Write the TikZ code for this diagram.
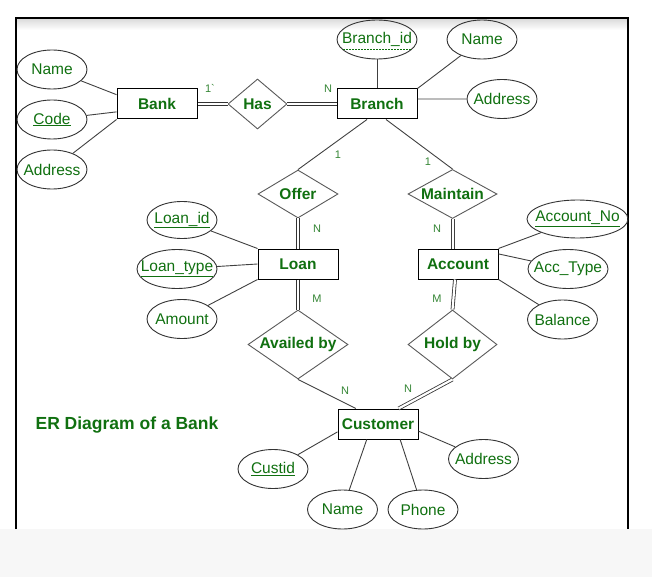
\documentclass[tikz,border=0pt]{standalone}
\usepackage{fontspec}
\setmainfont{Liberation Sans}
\usetikzlibrary{shapes.geometric}
\definecolor{ergreen}{RGB}{16,112,16}

\begin{document}
\begin{tikzpicture}[x=1pt,y=-1pt,
    entity/.style={draw,line width=1pt,minimum width=80pt,minimum height=30pt,inner sep=0pt,font=\fontsize{15.5}{18}\selectfont\bfseries,text=ergreen},
    attrib/.style={ellipse,draw=black!80,line width=0.9pt,minimum width=70pt,minimum height=39pt,inner xsep=-50pt,inner ysep=0pt,font=\fontsize{15.5}{18}\selectfont,text=ergreen},
    relation/.style={diamond,draw=black!65,line width=0.9pt,inner xsep=-60pt,inner ysep=0pt,font=\fontsize{15.5}{18}\selectfont\bfseries,text=ergreen},
    card/.style={font=\fontsize{11}{13}\selectfont,text=ergreen!85,inner sep=0pt},
    link/.style={draw=black!75,line width=0.9pt},
    total/.style={draw=black!80,line width=0.8pt,double,double distance=2.2pt}]
                    \useasboundingbox (0,0) rectangle (652,577);
                    \fill[black!3] (0,529) rectangle (652,577);
                    \shade[top color=black!15,bottom color=white] (16,18) rectangle (628,30);
                    \draw[line width=1.3pt] (16,529)--(16,18)--(628,18)--(628,529);
                    \node[entity] (bank) at (157,104) {Bank};
                    \node[relation,minimum width=59pt,minimum height=50pt] (has) at (257.5,104) {Has};
                    \node[entity] (branch) at (377,104) {Branch};
                    \node[attrib] (bkname) at (52,69.5) {Name};
                    \node[attrib] (bkcode) at (52,119.5) {\underline{Code}};
                    \node[attrib] (bkaddr) at (52,169.5) {Address};
                    \node[attrib,minimum width=80pt] (brid) at (377,39.5) {Branch\_id};
                    \draw[ergreen,line width=0.8pt,dash pattern=on 2pt off 1pt] ([xshift=-34pt,yshift=-10pt]brid.center)--([xshift=34pt,yshift=-10pt]brid.center);
                    \node[attrib] (brname) at (482,39.5) {Name};
                    \node[attrib] (braddr) at (502,99) {Address};
                    \node[relation,minimum width=80pt,minimum height=48pt] (offer) at (298,194) {Offer};
                    \node[relation,minimum width=89pt,minimum height=49pt] (maintain) at (452.5,194) {Maintain};
                    \node[entity] (loan) at (298,264) {Loan};
                    \node[entity] (account) at (458,264) {Account};
                    \coordinate (acctop) at (452.5,249);
                    \node[attrib,minimum height=37pt] (loanid) at (182,220) {\underline{Loan\_id}};
                    \node[attrib,minimum width=80pt] (loantype) at (177,269) {\underline{Loan\_type}};
                    \node[attrib] (amount) at (182,319) {Amount};
                    \node[attrib,minimum width=101pt,minimum height=38pt] (accno) at (577.5,219) {\underline{Account\_No}};
                    \node[attrib,minimum width=80pt] (acctype) at (568,269) {Acc\_Type};
                    \node[attrib] (balance) at (562.5,319.5) {Balance};
                    \node[relation,minimum width=100pt,minimum height=69pt] (availed) at (298,344.5) {Availed by};
                    \node[relation,minimum width=89pt,minimum height=69pt] (holdby) at (452.5,344.5) {Hold by};
                    \node[entity] (customer) at (378,424) {Customer};
                    \node[attrib] (custid) at (273,469) {\underline{Custid}};
                    \node[attrib] (cuname) at (342.5,509.5) {Name};
                    \node[attrib] (cuphone) at (423,509.5) {Phone};
                    \node[attrib] (cuaddr) at (483.5,459) {Address};
                    \node[font=\fontsize{17.5}{20}\selectfont\bfseries,text=ergreen] (title) at (127,425) {ER Diagram of a Bank};
                    \node[card] (cbank) at (210,88) {1\textasciigrave};
                    \node[card] (cbranch) at (328,89) {N};
                    \node[card] (coffer) at (338,155) {1};
                    \node[card] (cmaintain) at (428,162) {1};
                    \node[card] (cloan) at (317,229) {N};
                    \node[card] (caccount) at (437,229) {N};
                    \node[card] (cloanm) at (317,299) {M};
                    \node[card] (caccm) at (437,299) {M};
                    \node[card] (cavail) at (345,391) {N};
                    \node[card] (chold) at (408,389) {N};
                    \draw[link] (bkname)--(bank.167);
                    \draw[link] (bkcode)--(bank.191);
                    \draw[link] (bkaddr)--(bank.south west);
                    \draw[total] (bank)--(has);
                    \draw[total] (has)--(branch);
                    \draw[link] (brid)--(branch);
                    \draw[link] (brname)--(branch.north east);
                    \draw[link] (braddr)--(branch.7);
                    \draw[link] ([xshift=-10pt]branch.south)--(offer.north);
                    \draw[link] ([xshift=9pt]branch.south)--(maintain.north);
                    \draw[total] (offer)--(loan);
                    \draw[link,line width=0.8pt] ([xshift=-1.5pt]maintain.south)--([xshift=-1.5pt]acctop);
                    \draw[link,line width=0.8pt] ([xshift=1.5pt]maintain.south)--([xshift=1.5pt]acctop);
                    \draw[link] (loanid)--(loan.north west);
                    \draw[link] (loantype)--(loan.west);
                    \draw[link] (amount)--(loan.south west);
                    \draw[link] (accno)--(account.north east);
                    \draw[link] (acctype)--(account.14);
                    \draw[link] (balance)--(account.south east);
                    \draw[total] (loan)--(availed);
                    \draw[total] ([xshift=-3pt]account.south)--(holdby.north);
                    \draw[link] (availed.south)--(customer.145);
                    \draw[total] (holdby.south)--(customer.37);
                    \draw[link] (custid)--(customer.191);
                    \draw[link] (cuname)--(customer.234);
                    \draw[link] (cuphone)--(customer.325);
                    \draw[link] (cuaddr)--(customer.350);
\end{tikzpicture}
\end{document}
